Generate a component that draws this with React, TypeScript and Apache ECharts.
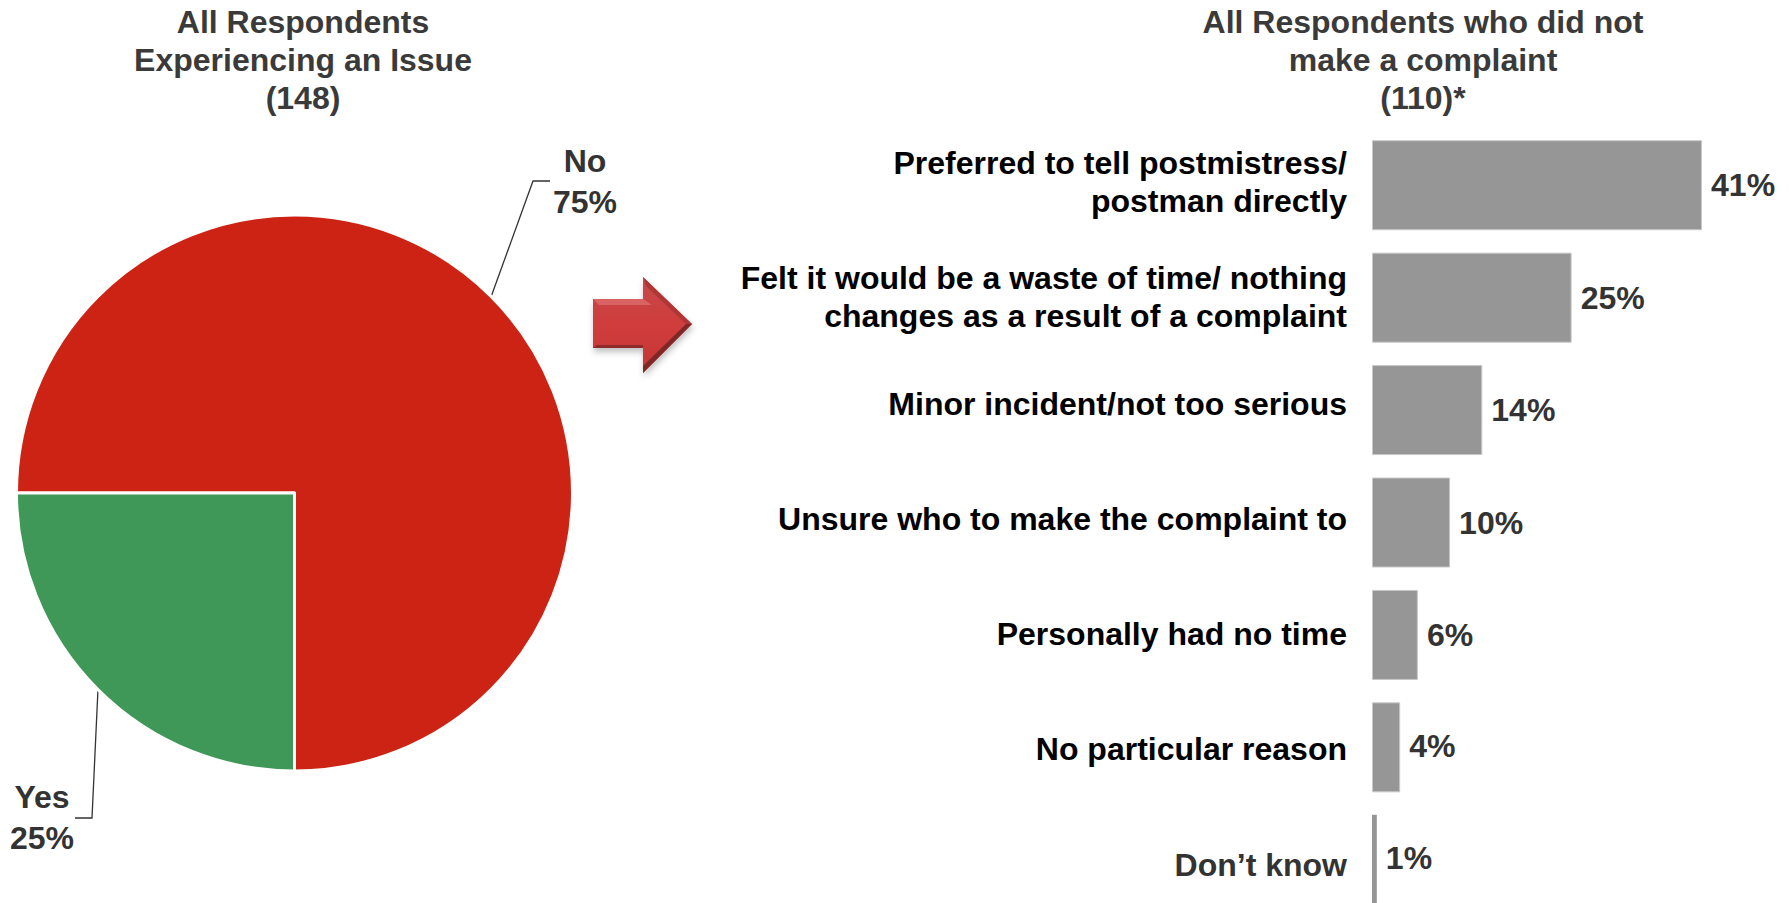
import React, { useEffect, useRef } from "react";
import * as echarts from "echarts";

const pieNames = ["No", "Yes"];
const pieValues = [75, 25];
const pieColors = ["#CC2314", "#3F9858"];

const categories = [
  "Preferred to tell postmistress/\npostman directly",
  "Felt it would be a waste of time/ nothing\nchanges as a result of a complaint",
  "Minor incident/not too serious",
  "Unsure who to make the complaint to",
  "Personally had no time",
  "No particular reason",
  "Don\u2019t know",
];
const barLengths = [41, 24.8, 13.7, 9.7, 5.7, 3.5, 0.6];
const barLabels = ["41%", "25%", "14%", "10%", "6%", "4%", "1%"];
const barLabelShifts = [0, 0, 0, 0, 0, -1, -2];
const barBorders = [1, 1, 1, 1, 1, 1, 0];
const categoryColors = ["#000", "#000", "#000", "#000", "#000", "#000", "#333"];
const categoryShifts = [-3, -1, -6, -4, -1, 2, 5];

const FONT = "Liberation Sans";
const TEXT = "#333333";
const SIZE = 32;

export default function App() {
  const ref = useRef<HTMLDivElement>(null);
  useEffect(() => {
    document.body.style.margin = "0";
    const chart = echarts.init(ref.current!, null, { renderer: "svg" });
    chart.setOption({
      animation: false,
      backgroundColor: "#fff",
      title: [
        {
          text: "All Respondents\nExperiencing an Issue\n(148)",
          left: 303,
          top: 3,
          padding: 0,
          textAlign: "center",
          textStyle: { fontFamily: FONT, fontWeight: "bold", fontSize: SIZE, lineHeight: 38, color: "#3a3a3a" },
        },
        {
          text: "All Respondents who did not\nmake a complaint\n(110)*",
          left: 1423,
          top: 3,
          padding: 0,
          textAlign: "center",
          textStyle: { fontFamily: FONT, fontWeight: "bold", fontSize: SIZE, lineHeight: 38, color: "#3a3a3a" },
        },
      ],
      grid: { left: 1372, top: 129, width: 402.5, height: 787 },
      xAxis: { type: "value", min: 0, max: 50, show: false },
      yAxis: {
        type: "category",
        inverse: true,
        data: categories,
        axisLine: { show: false },
        axisTick: { show: false },
        axisLabel: { show: false },
      },
      series: [
        {
          type: "pie",
          center: [294.5, 493],
          radius: [0, 278],
          startAngle: 180,
          clockwise: true,
          silent: true,
          itemStyle: { borderColor: "#fff", borderWidth: 3 },
          data: pieNames.map((n, i) => ({ name: n, value: pieValues[i], itemStyle: { color: pieColors[i] } })),
          label: {
            show: true,
            position: "outside",
            formatter: "{b}\n{d}%",
            overflow: "none",
            align: "center",
            verticalAlign: "middle",
            fontFamily: FONT,
            fontWeight: "bold",
            fontSize: SIZE,
            lineHeight: 41,
            color: TEXT,
          },
          labelLine: { show: false },
          labelLayout: (p: any) =>
            p.dataIndex === 0
              ? { x: 585, y: 181, align: "center", verticalAlign: "middle" }
              : { x: 42, y: 817, align: "center", verticalAlign: "middle" },
        },
        {
          type: "bar",
          name: "Reasons",
          barWidth: 90,
          barGap: "-100%",
          silent: true,
          itemStyle: { color: "#969696", borderColor: "#c8c8c8" },
          data: barLengths.map((v, i) => ({
            value: v,
            itemStyle: { borderWidth: barBorders[i] },
            label: { offset: [0, barLabelShifts[i]] },
          })),
          label: {
            show: true,
            position: "right",
            distance: 9,
            formatter: (p: any) => barLabels[p.dataIndex],
            fontFamily: FONT,
            fontWeight: "bold",
            fontSize: SIZE,
            color: TEXT,
          },
        },
        {
          type: "bar",
          name: "Reason labels",
          barWidth: 90,
          barGap: "-100%",
          silent: true,
          itemStyle: { color: "transparent" },
          data: categories.map((c, i) => ({
            name: c,
            value: 0,
            label: { offset: [0, categoryShifts[i]], color: categoryColors[i] },
          })),
          label: {
            show: true,
            position: "left",
            distance: 25,
            align: "right",
            formatter: (p: any) => categories[p.dataIndex],
            fontFamily: FONT,
            fontWeight: "bold",
            fontSize: SIZE,
            lineHeight: 38,
          },
        },
      ],
      graphic: [
        { type: "polyline", silent: true, shape: { points: [[491, 297], [533, 181], [550, 181]] }, style: { stroke: "#333", lineWidth: 1.3, fill: "none" } },
        { type: "polyline", silent: true, shape: { points: [[98, 689], [92, 818], [75, 818]] }, style: { stroke: "#333", lineWidth: 1.3, fill: "none" } },
        {
          type: "polygon",
          silent: true,
          shape: { points: [[593, 299], [643, 299], [643, 277], [692, 324], [643, 373], [643, 348], [593, 348]] },
          style: {
            fill: {
              type: "linear", x: 0, y: 0, x2: 0, y2: 1,
              colorStops: [
                { offset: 0, color: "#c44a4a" },
                { offset: 0.5, color: "#d03c3c" },
                { offset: 1, color: "#c43636" },
              ],
            },
            shadowBlur: 6,
            shadowOffsetX: 1,
            shadowOffsetY: 4,
            shadowColor: "rgba(0,0,0,0.25)",
          },
        },
        { type: "polygon", silent: true, shape: { points: [[593, 299], [643, 299], [652, 305], [599, 305]] }, style: { fill: "#dc6a6a", opacity: 0.8 } },
        { type: "polygon", silent: true, shape: { points: [[593, 348], [643, 348], [643, 345], [597, 345]] }, style: { fill: "#8f2a2a" } },
        { type: "polygon", silent: true, shape: { points: [[643, 373], [692, 324], [686, 324], [643, 366]] }, style: { fill: "#7f2626" } },
        { type: "polygon", silent: true, shape: { points: [[643, 277], [692, 324], [686, 324], [646, 286]] }, style: { fill: "#b03636" } },
      ],
    });
    return () => chart.dispose();
  }, []);
  return (
    <div style={{ width: 1789, height: 903, overflow: "hidden" }}>
      <div ref={ref} style={{ width: 1789, height: 930 }} />
    </div>
  );
}
